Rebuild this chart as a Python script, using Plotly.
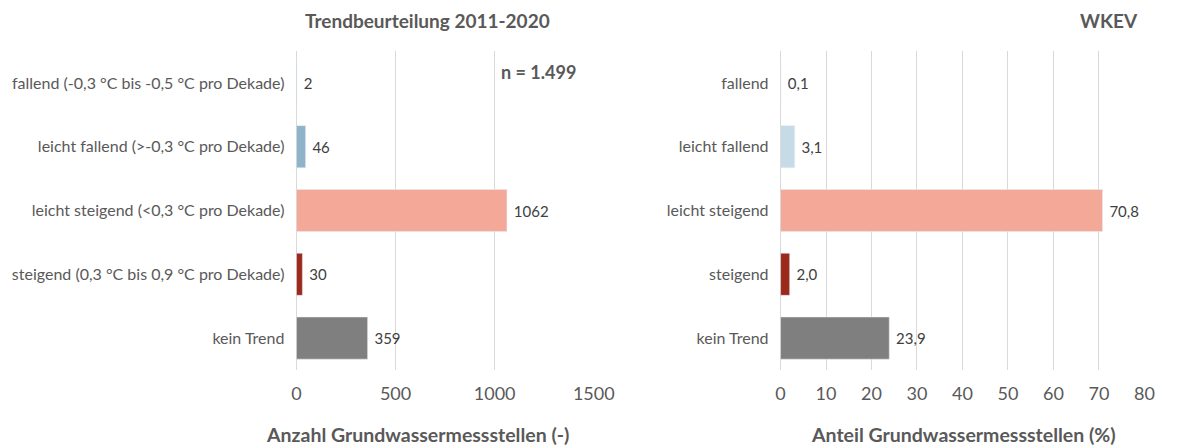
import plotly.graph_objects as go

cats_left = ["fallend (-0,3 °C bis -0,5 °C pro Dekade)",
             "leicht fallend (>-0,3 °C pro Dekade)",
             "leicht steigend (<0,3 °C pro Dekade)",
             "steigend (0,3 °C bis 0,9 °C pro Dekade)",
             "kein Trend"]
vals_left = [2, 46, 1062, 30, 359]
labels_left = ["2", "46", "1062", "30", "359"]

cats_right = ["fallend", "leicht fallend", "leicht steigend", "steigend", "kein Trend"]
vals_right = [0.1, 3.1, 70.8, 2.0, 23.9]
labels_right = ["0,1", "3,1", "70,8", "2,0", "23,9"]

colors_left = ["#8fb3c9", "#8fb3c9", "#f4a898", "#9c2a1b", "#7f7f7f"]
colors_right = ["#c6dbe6", "#c6dbe6", "#f4a898", "#9c2a1b", "#7f7f7f"]

FONT = "Lato, Open Sans, sans-serif"
GRAY = "#595959"

fig = go.Figure()
fig.add_trace(go.Bar(y=cats_left, x=vals_left, orientation="h", marker_color=colors_left,
                     text=labels_left, texttemplate=" %{text}", textposition="outside", cliponaxis=False,
                     textfont=dict(size=15, color="#404040", family=FONT),
                     xaxis="x", yaxis="y", showlegend=False))
fig.add_trace(go.Bar(y=cats_right, x=vals_right, orientation="h", marker_color=colors_right,
                     text=labels_right, texttemplate=" %{text}", textposition="outside", cliponaxis=False,
                     textfont=dict(size=15, color="#404040", family=FONT),
                     xaxis="x2", yaxis="y2", showlegend=False))

ydom = [1 - 370 / 445, 1 - 51 / 445]
xcommon = dict(showgrid=True, gridcolor="#d9d9d9", gridwidth=1, zeroline=True,
               zerolinecolor="#d9d9d9", zerolinewidth=1, showline=False, ticks="",
               tickfont=dict(size=18, color=GRAY, family=FONT), ticklabelstandoff=11)
ycommon = dict(showgrid=False, ticks="", ticklabelstandoff=11,
               tickfont=dict(size=16, color=GRAY, family=FONT))
fig.update_layout(
    width=1182, height=445, margin=dict(l=0, r=0, t=0, b=0),
    paper_bgcolor="white", plot_bgcolor="white", bargap=0.34,
    font=dict(family=FONT, color=GRAY),
    xaxis=dict(domain=[298 / 1182, 602 / 1182], range=[0, 1500], tickvals=[0, 500, 1000, 1500],
               anchor="y", **xcommon),
    xaxis2=dict(domain=[793 / 1182, 1165 / 1182], range=[0, 80], dtick=10, anchor="y2", **xcommon),
    yaxis=dict(domain=ydom, categoryorder="array", categoryarray=cats_left[::-1], anchor="x", **ycommon),
    yaxis2=dict(domain=ydom, categoryorder="array", categoryarray=cats_right[::-1], anchor="x2", **ycommon),
)

ann = [
    dict(text="<b>Trendbeurteilung 2011-2020</b>", x=432 / 1182, y=1 - 20 / 445, size=19, xanchor="center"),
    dict(text="<b>WKEV</b>", x=1161 / 1182, y=1 - 20 / 445, size=19, xanchor="right"),
    dict(text="<b>n = 1.499</b>", x=545 / 1182, y=1 - 72 / 445, size=18, xanchor="center"),
    dict(text="<b>Anzahl Grundwassermessstellen (-)</b>", x=422 / 1182, y=1 - 434 / 445, size=19.5, xanchor="center"),
    dict(text="<b>Anteil Grundwassermessstellen (%)</b>", x=980 / 1182, y=1 - 434 / 445, size=19.5, xanchor="center"),
]
fig.update_layout(annotations=[
    dict(text=a["text"], x=a["x"], y=a["y"], xref="paper", yref="paper", xanchor=a["xanchor"],
         yanchor="middle", showarrow=False, font=dict(size=a["size"], color=GRAY, family=FONT))
    for a in ann])

fig.write_html("out.html")
